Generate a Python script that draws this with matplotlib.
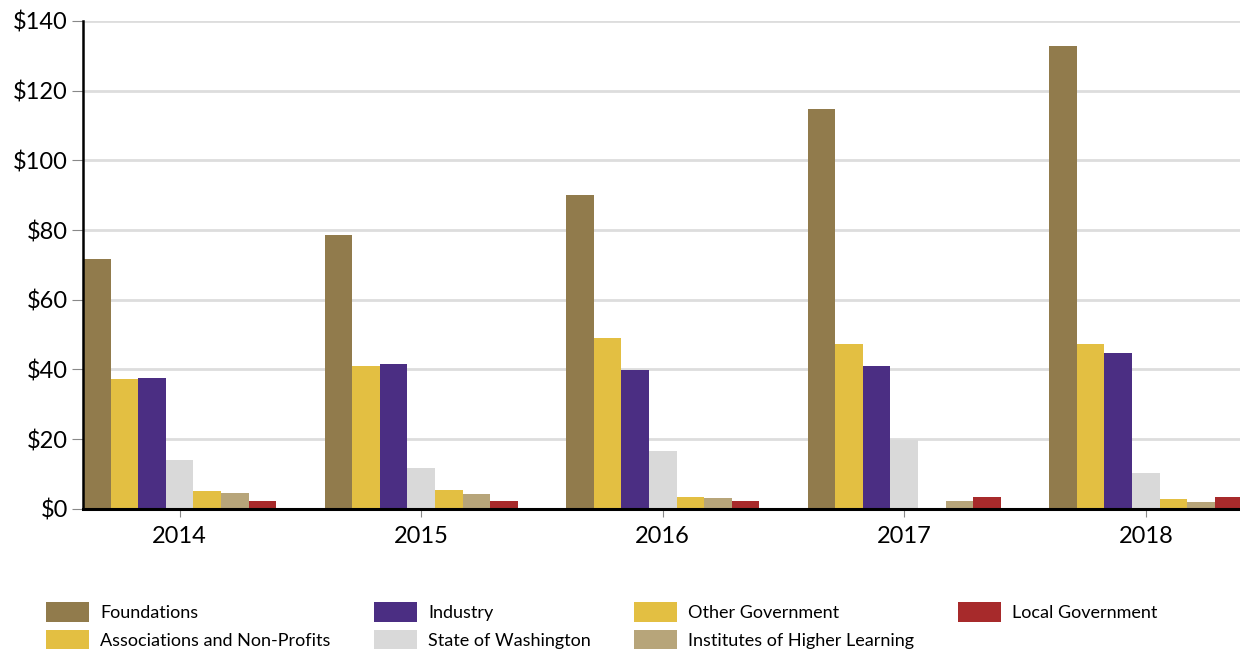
import matplotlib.pyplot as plt
import numpy as np
from matplotlib.ticker import FuncFormatter

plt.rcParams['font.family'] = ['Lato', 'DejaVu Sans']

# data (millions of dollars)
years = ['2014', '2015', '2016', '2017', '2018']
sources = ['Foundations', 'Associations and Non-Profits', 'Industry',
           'State of Washington', 'Other Government',
           'Institutes of Higher Learning', 'Local Government']
foundations = [71.7, 78.5, 90.1, 114.7, 132.7]
associations = [37.2, 41.1, 48.9, 47.3, 47.3]
industry = [37.5, 41.5, 39.9, 40.9, 44.7]
state_wa = [14.0, 11.8, 16.6, 19.8, 10.3]
other_gov = [5.2, 5.4, 3.4, 0.4, 2.9]
institutes = [4.6, 4.3, 3.1, 2.4, 2.1]
local_gov = [2.3, 2.3, 2.3, 3.4, 3.4]

series = [foundations, associations, industry, state_wa,
          other_gov, institutes, local_gov]
colors = ['#917b4c', '#e3bf42', '#4b2e83', '#d9d9d9',
          '#e3bf42', '#b7a57a', '#a72a2b']

fig = plt.figure(figsize=(12.4, 6.5), dpi=100)
ax = fig.add_axes([0.067, 0.217, 0.933, 0.751])

x = np.arange(len(years))
n = len(series)
width = 0.8 / n
for i, (vals, c, name) in enumerate(zip(series, colors, sources)):
    ax.bar(x - 0.4 + width * (i + 0.5), vals, width, color=c, label=name,
           zorder=3)

ax.set_ylim(0, 140)
ax.set_yticks(range(0, 141, 20))
ax.yaxis.set_major_formatter(FuncFormatter(lambda v, p: '${:.0f}'.format(v)))
ax.set_xlim(-0.4, 4.39)
ax.set_xticks(x)
ax.set_xticklabels(years)

ax.grid(axis='y', color='#dddddd', linewidth=2, zorder=0)
for s in ['top', 'right']:
    ax.spines[s].set_visible(False)
ax.spines['left'].set_linewidth(1.8)
ax.spines['left'].set_zorder(4)
ax.spines['bottom'].set_linewidth(2.2)
ax.spines['bottom'].set_zorder(4)
ax.tick_params(axis='y', labelsize=17, length=8, color='#888888', pad=3)
ax.tick_params(axis='x', labelsize=17, length=6, color='#888888', pad=6)

fig.legend(loc='lower left', bbox_to_anchor=(0.024, -0.024), ncol=4,
           frameon=False, fontsize=13, handlelength=2.4, handleheight=1.3,
           handletextpad=0.6, columnspacing=2.4, labelspacing=0.45)

plt.savefig('out.png')
